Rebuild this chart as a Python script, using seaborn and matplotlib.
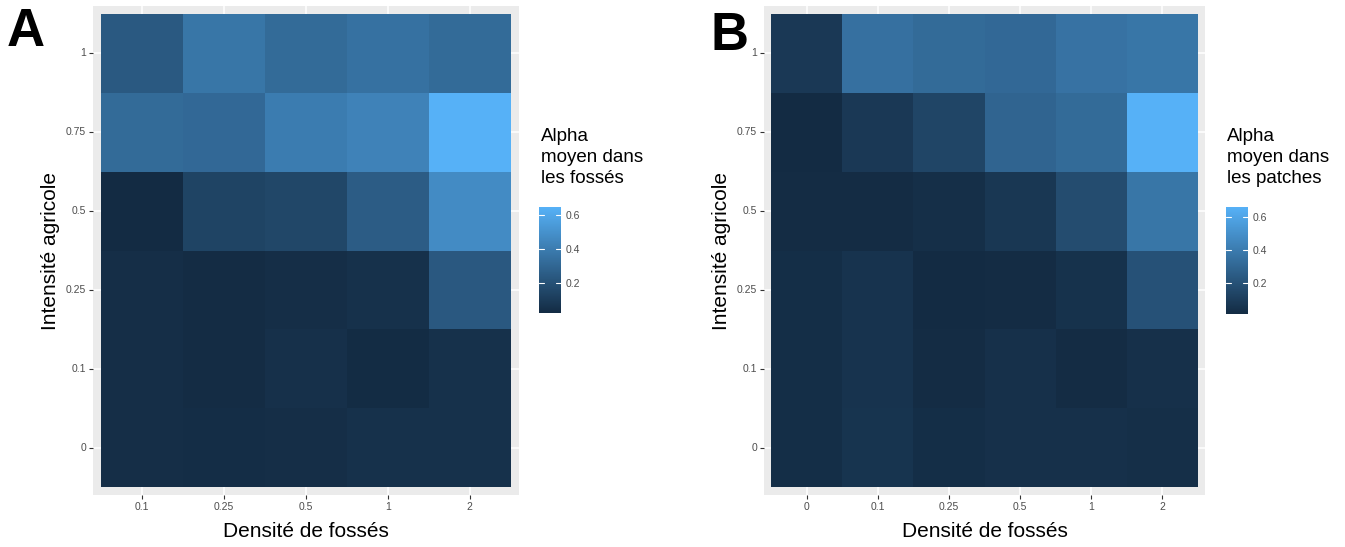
import numpy as np
import pandas as pd
import matplotlib
matplotlib.use("Agg")
import matplotlib.pyplot as plt
from matplotlib.colors import LinearSegmentedColormap
import seaborn as sns

# ---------------- data ----------------
rows = ["1", "0.75", "0.5", "0.25", "0.1", "0"]          # Intensité agricole (top -> bottom)
cols_a = ["0.1", "0.25", "0.5", "1", "2"]                # Densité de fossés (panel A)
cols_b = ["0", "0.1", "0.25", "0.5", "1", "2"]           # Densité de fossés (panel B)

a_r1    = [0.24, 0.37, 0.32, 0.35, 0.32]
a_r075  = [0.32, 0.31, 0.40, 0.43, 0.647]
a_r05   = [0.024, 0.14, 0.155, 0.255, 0.47]
a_r025  = [0.04, 0.03, 0.04, 0.055, 0.235]
a_r01   = [0.04, 0.03, 0.05, 0.028, 0.055]
a_r0    = [0.04, 0.035, 0.04, 0.055, 0.055]

b_r1    = [0.08, 0.35, 0.32, 0.31, 0.36, 0.375]
b_r075  = [0.017, 0.08, 0.14, 0.29, 0.32, 0.658]
b_r05   = [0.023, 0.023, 0.036, 0.075, 0.177, 0.375]
b_r025  = [0.03, 0.055, 0.018, 0.023, 0.05, 0.20]
b_r01   = [0.03, 0.055, 0.023, 0.043, 0.023, 0.043]
b_r0    = [0.03, 0.06, 0.03, 0.043, 0.043, 0.036]

cbar_ticks = [0.2, 0.4, 0.6]
xlabel = "Densité de fossés"
ylabel = "Intensité agricole"
legend_a = "Alpha\nmoyen dans\nles fossés"
legend_b = "Alpha\nmoyen dans\nles patches"

df_a = pd.DataFrame([a_r1, a_r075, a_r05, a_r025, a_r01, a_r0], index=rows, columns=cols_a)
df_b = pd.DataFrame([b_r1, b_r075, b_r05, b_r025, b_r01, b_r0], index=rows, columns=cols_b)

# ---------------- style ----------------
sns.set_style("white")
plt.rcParams["font.family"] = ["Liberation Sans", "DejaVu Sans"]
cmap = LinearSegmentedColormap.from_list("gg", ["#132B43", "#56B1F7"])

W, H = 1345, 547
fig = plt.figure(figsize=(W / 100, H / 100), dpi=100)

def fx(px): return px / W
def fy(py): return 1 - py / H

def panel(df, ax_box, cax_box, legend_title, legend_xy, letter, letter_xy):
    ax = fig.add_axes(ax_box)
    cax = fig.add_axes(cax_box)
    sns.heatmap(df, ax=ax, cbar_ax=cax, cmap=cmap, square=False,
                linewidths=0, cbar_kws={"ticks": cbar_ticks})
    nr, nc = df.shape
    ax.set_facecolor("#EBEBEB")
    ax.set_xlim(-0.1, nc + 0.1)
    ax.set_ylim(nr + 0.1, -0.1)
    ax.set_axisbelow(True)
    ax.grid(True, color="white", linewidth=1.1)
    for s in ax.spines.values():
        s.set_visible(False)
    ax.tick_params(axis="both", which="major", length=3, width=0.8, color="#333333",
                   labelsize=7.5, labelcolor="#4D4D4D", pad=2, bottom=True, left=True)
    ax.set_xticklabels(df.columns, rotation=0)
    ax.set_yticklabels(df.index, rotation=0)
    ax.set_xlabel(xlabel, fontsize=15, color="black", labelpad=7)
    ax.set_ylabel(ylabel, fontsize=15, color="black", labelpad=4)
    # colorbar styling
    cb = ax.collections[0].colorbar
    cb.outline.set_visible(False)
    cax.tick_params(length=0, labelsize=7.5, labelcolor="#4D4D4D", pad=3)
    for t in cbar_ticks:
        cax.plot([0, 0.22], [t, t], color="white", lw=0.8, transform=cax.get_yaxis_transform())
        cax.plot([0.78, 1], [t, t], color="white", lw=0.8, transform=cax.get_yaxis_transform())
    fig.text(legend_xy[0], legend_xy[1], legend_title, fontsize=13.5, va="top", ha="left",
             linespacing=1.3, color="black")
    fig.text(letter_xy[0], letter_xy[1], letter, fontsize=38, fontweight="bold",
             va="baseline", ha="left", color="black")
    return ax

panel(df_a,
      [fx(93), fy(495), fx(426), 489 / H],
      [fx(539), fy(313), fx(22), 106 / H],
      legend_a, (fx(541), fy(128)), "A", (fx(7), fy(46)))
panel(df_b,
      [fx(764), fy(495), fx(441), 489 / H],
      [fx(1226), fy(314), fx(22), 107 / H],
      legend_b, (fx(1227), fy(128)), "B", (fx(711), fy(50)))

fig.savefig("out.png", dpi=100)
